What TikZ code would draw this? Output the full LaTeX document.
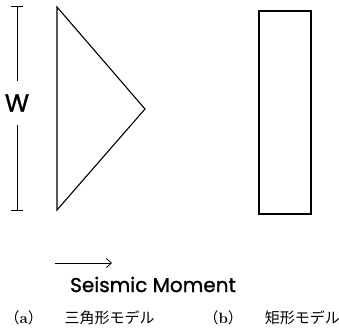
\documentclass[tikz,border=0pt]{standalone}
\usetikzlibrary{arrows.meta}
\usepackage{fontspec}
\setsansfont{Poppins}
\newfontfamily\labelfont{Poppins}[FakeBold=1.2]
\newfontfamily\cjk{Noto Sans CJK JP}
\begin{document}
\begin{tikzpicture}[x=1pt, y=-1pt, >={Straight Barb[length=5pt, width=9pt]}, line width=1.1pt]
    \useasboundingbox (0,0) rectangle (339,335);

    % 1. 三角形モデル (左)
    \draw (57,7) -- (145,109) -- (57,210) -- cycle;

    % 2. 矩形モデル (右)
    \draw (259,11) rectangle (311,214);

    % 3. 幅 W の寸法線
    \coordinate (wtop) at (17,6);
    \coordinate (wbot) at (17,210);
    \node[font=\labelfont\fontsize{25}{25}\selectfont, inner sep=13pt] (W) at (17,103) {W};
    \draw[line width=0.9pt] (wtop) -- (W);
    \draw[line width=0.9pt] (W) -- (wbot);
    \draw[line width=0.9pt] ([xshift=-6pt]wtop) -- ([xshift=6pt]wtop);
    \draw[line width=0.9pt] ([xshift=-6pt]wbot) -- ([xshift=6pt]wbot);

    % 4. Seismic Moment の矢印
    \coordinate (m0) at (55,263);
    \coordinate (m1) at (112,263);
    \draw[->, line width=0.8pt] (m0) -- (m1);
    \node[font=\labelfont\fontsize{20}{20}\selectfont, anchor=base] (moment) at (153,292) {Seismic Moment};

    % 5. キャプション
    \node[font=\cjk\fontsize{15}{15}\selectfont, anchor=base west, inner sep=0pt] (capa) at (4,323)
        {（\textbf{\rmfamily a}）\hspace{22pt}三角形モデル};
    \node[font=\cjk\fontsize{15}{15}\selectfont, anchor=base west, inner sep=0pt] (capb) at (203,323)
        {（\textbf{\rmfamily b}）\hspace{22pt}矩形モデル};
\end{tikzpicture}
\end{document}
